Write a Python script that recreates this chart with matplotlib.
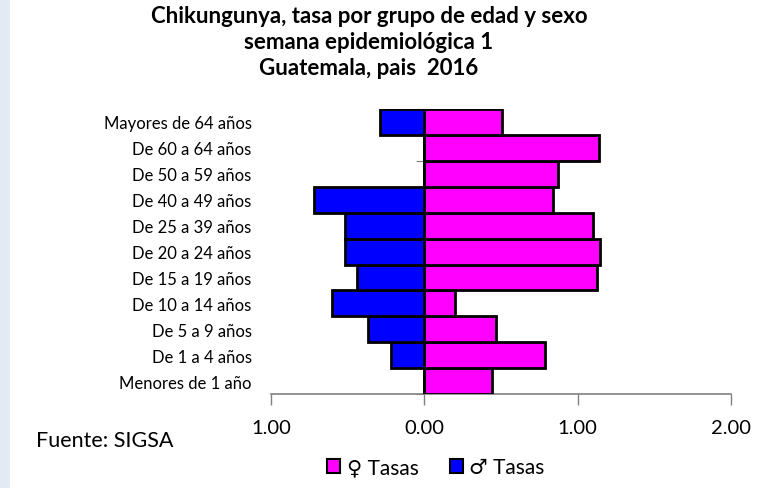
import numpy as np
import matplotlib
matplotlib.use("Agg")
import matplotlib.pyplot as plt
from matplotlib.patches import Patch, Rectangle
from matplotlib.ticker import FuncFormatter

plt.rcParams['font.family'] = ['Lato', 'DejaVu Sans']

# age groups, bottom to top
grupos = ['Menores de 1 año', 'De 1 a 4 años', 'De 5 a 9 años', 'De 10 a 14 años',
          'De 15 a 19 años', 'De 20 a 24 años', 'De 25 a 39 años', 'De 40 a 49 años',
          'De 50 a 59 años', 'De 60 a 64 años', 'Mayores de 64 años']
tasa_mujer = [0.44, 0.79, 0.47, 0.20, 1.13, 1.15, 1.10, 0.84, 0.87, 1.14, 0.51]
tasa_hombre = [0.0, 0.215, 0.365, 0.60, 0.44, 0.52, 0.515, 0.72, 0.0, 0.0, 0.29]
xticks = [-1, 0, 1, 2]

titulo = 'Chikungunya, tasa por grupo de edad y sexo\nsemana epidemiológica 1\nGuatemala, pais  2016'

fig = plt.figure(figsize=(7.7, 4.89), dpi=100)
# light blue strip on the left edge
fig.patches.append(Rectangle((0, 0), 0.013, 1, transform=fig.transFigure,
                             facecolor='#e2eaf4', edgecolor='none', zorder=0))

ax = fig.add_axes([0.352, 0.192, 0.597, 0.583])
y = np.arange(len(grupos))
ax.barh(y, tasa_mujer, height=1.0, color='#ff00ff', edgecolor='black', linewidth=2.0, zorder=3)
ax.barh(y, [-v for v in tasa_hombre], height=1.0, color='#0000ff', edgecolor='black',
        linewidth=2.0, zorder=3)

ax.set_xlim(-1, 2)
ax.set_ylim(-0.5, len(grupos) - 0.5)
ax.set_xticks(xticks)
ax.xaxis.set_major_formatter(FuncFormatter(lambda v, p: f'{abs(v):.2f}'))
ax.tick_params(axis='x', length=8, width=1, color='#808080', pad=10, labelsize=14.5)

ax.set_yticks(y)
ax.set_yticklabels(grupos, fontsize=12)
ax.tick_params(axis='y', length=0, pad=14)

for s in ['top', 'right', 'left']:
    ax.spines[s].set_visible(False)
ax.spines['bottom'].set_color('#808080')
ax.spines['bottom'].set_linewidth(1.2)

# vertical axis at zero with ticks between groups
sec = ax.secondary_yaxis(1 / 3)
sec.set_yticks(np.arange(len(grupos) + 1) - 0.5)
sec.set_yticklabels([])
sec.tick_params(length=6, color='#808080', direction='out')
sec.spines['left'].set_color('#808080')

fig.text(0.479, 0.987, titulo, ha='center', va='top', fontsize=16, fontweight='bold',
         linespacing=1.27)
fig.text(0.047, 0.098, 'Fuente: SIGSA', ha='left', va='center', fontsize=15.5)

handles = [Patch(facecolor='#ff00ff', edgecolor='black', linewidth=1.5),
           Patch(facecolor='#0000ff', edgecolor='black', linewidth=1.5)]
fig.legend(handles, ['♀ Tasas', '♂ Tasas'], loc='center', bbox_to_anchor=(0.566, 0.043),
           ncol=2, frameon=False, fontsize=15, handlelength=0.65, handleheight=0.65,
           handletextpad=0.3, columnspacing=1.5)

fig.savefig('out.png', dpi=100)
